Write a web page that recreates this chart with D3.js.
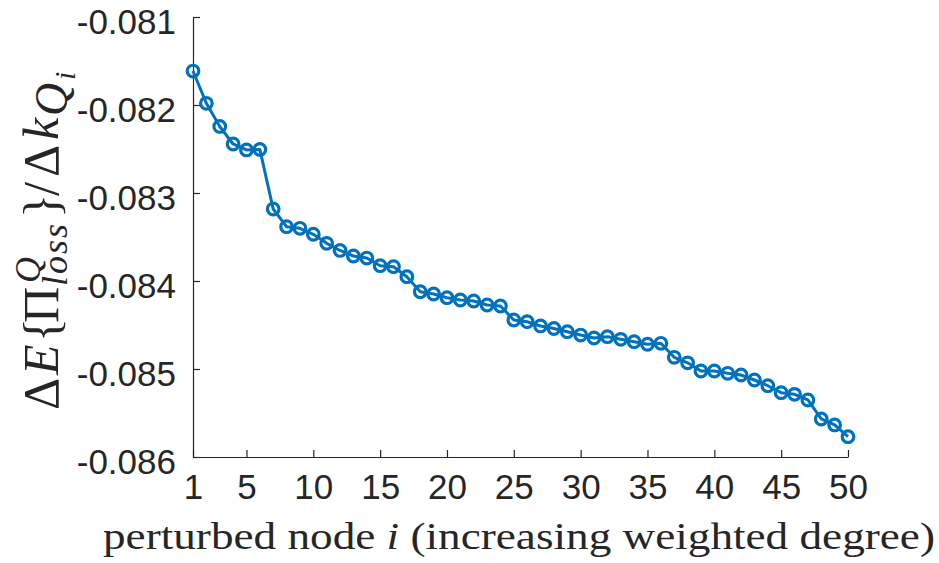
<!DOCTYPE html>
<html><head><meta charset="utf-8">
<script src="https://cdn.jsdelivr.net/npm/d3@7"></script>
<style>body{margin:0;background:#fff}</style>
</head><body>
<svg id="c" width="939" height="563"></svg>
<script>
const nodes = d3.range(1, 51);
const values = [
-0.081614,-0.081981,-0.082244,-0.082443,-0.082511,-0.082505,-0.083182,-0.083383,-0.083401,-0.083469,
-0.083572,-0.083653,-0.083716,-0.083739,-0.083826,-0.083838,-0.083951,-0.084122,-0.084148,-0.084190,
-0.084216,-0.084227,-0.084273,-0.084284,-0.084443,-0.084463,-0.084511,-0.084540,-0.084576,-0.084614,
-0.084648,-0.084633,-0.084663,-0.084690,-0.084719,-0.084708,-0.084867,-0.084930,-0.085023,-0.085023,
-0.085049,-0.085068,-0.085125,-0.085190,-0.085269,-0.085288,-0.085352,-0.085568,-0.085636,-0.085769];
const xTicks = [1,5,10,15,20,25,30,35,40,45,50];
const yTicks = [-0.081,-0.082,-0.083,-0.084,-0.085,-0.086];

const svg = d3.select("#c");
const x = d3.scaleLinear().domain([1,50]).range([193,848]);
const y = d3.scaleLinear().domain([-0.086,-0.081]).range([457,17]);
const axisCol = "#262626";

const gx = svg.append("g").attr("transform","translate(0,457)")
  .call(d3.axisBottom(x).tickValues(xTicks).tickSizeInner(-7).tickSizeOuter(0).tickPadding(17).tickFormat(d3.format("d")));
const gy = svg.append("g").attr("transform","translate(193,0)")
  .call(d3.axisLeft(y).tickValues(yTicks).tickSizeInner(-7).tickSizeOuter(0).tickPadding(17).tickFormat(d=>d.toFixed(3)));
[gx,gy].forEach(g=>{
  g.select(".domain").attr("stroke",axisCol).attr("stroke-width",1.2);
  g.selectAll(".tick line").attr("stroke",axisCol).attr("stroke-width",1.2);
  g.selectAll(".tick text").attr("fill",axisCol).attr("font-family","'Liberation Sans', Arial, sans-serif").attr("font-size",35);
});
gx.selectAll(".tick text").attr("dy","0.72em");
gy.selectAll(".tick text").attr("dy","0.48em");

const line = d3.line().x((d,i)=>x(nodes[i])).y(d=>y(d));
svg.append("path").datum(values).attr("d",line).attr("fill","none")
  .attr("stroke","#0072BD").attr("stroke-width",3).attr("stroke-linejoin","round");
svg.append("g").selectAll("circle").data(values).join("circle")
  .attr("cx",(d,i)=>x(nodes[i])).attr("cy",d=>y(d)).attr("r",5.8)
  .attr("fill","none").attr("stroke","#0072BD").attr("stroke-width",3.2);

// x label
const xl = svg.append("text").attr("x",103).attr("y",549)
  .attr("font-family","'Liberation Serif', serif").attr("font-size",38).attr("fill","#262626")
  .attr("textLength",832).attr("lengthAdjust","spacingAndGlyphs");
xl.append("tspan").text("perturbed node ");
xl.append("tspan").attr("font-style","italic").text("i");
xl.append("tspan").text(" (increasing weighted degree)");

// y label (rotated; local x runs upward, local y runs rightward)
const yl = svg.append("text").attr("transform","translate(58,410) rotate(-90)")
  .attr("font-family","'Liberation Serif', serif").attr("font-size",50).attr("fill","#262626");
const parts = [
  {t:"Δ", x:0, y:0},
  {t:"E", x:35, y:0, it:true},
  {t:"{", x:68, y:0},
  {t:"Π", x:87, y:0},
  {t:"Q", x:127, y:-18, it:true, fs:36},
  {t:"loss", x:124, y:9, it:true, fs:36, ls:2},
  {t:"}", x:192, y:0},
  {t:"/", x:214, y:0},
  {t:"Δ", x:233, y:0},
  {t:"k", x:270, y:0, it:true},
  {t:"Q", x:294, y:9, it:true, fs:46},
  {t:"i", x:330, y:17, it:true, fs:30}
];
parts.forEach(p=>{
  const s = yl.append("tspan").attr("x",p.x).attr("y",p.y).text(p.t);
  if(p.it) s.attr("font-style","italic");
  if(p.fs) s.attr("font-size",p.fs);
  if(p.ls) s.attr("letter-spacing",p.ls);
});
</script>
</body></html>
